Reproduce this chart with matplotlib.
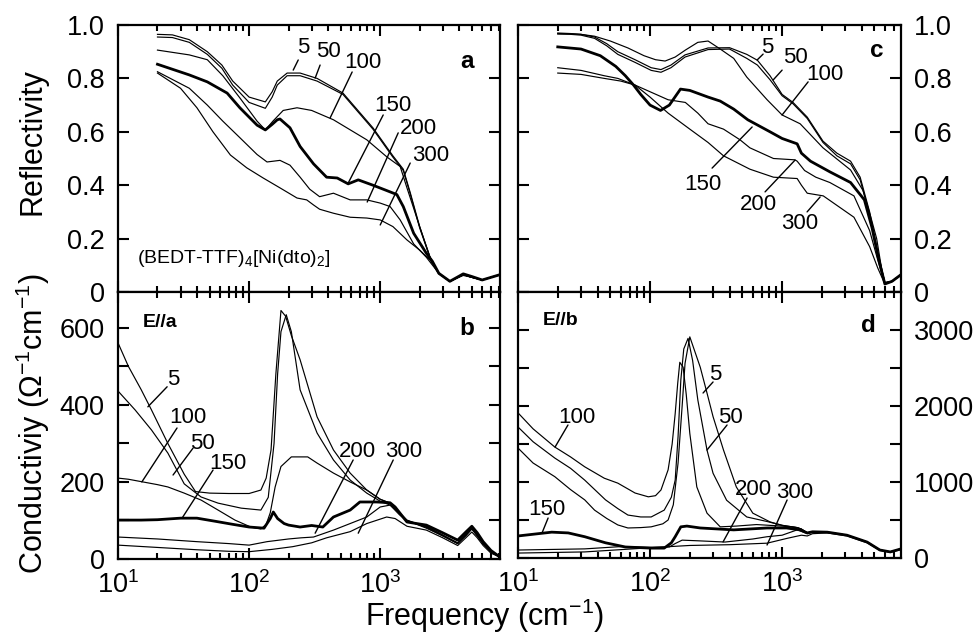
import numpy as np
import matplotlib
matplotlib.use('Agg')
import matplotlib.pyplot as plt
from matplotlib.ticker import LogLocator, FixedLocator, FixedFormatter, NullFormatter, LogFormatterSciNotation

plt.rcParams['font.family'] = ['Liberation Sans', 'DejaVu Sans']
plt.rcParams['mathtext.fontset'] = 'custom'
plt.rcParams['mathtext.rm'] = 'Liberation Sans'
plt.rcParams['mathtext.it'] = 'Liberation Sans:italic'
plt.rcParams['mathtext.bf'] = 'Liberation Sans:bold'

temps = ['5', '50', '100', '150', '200', '300']

# ---------------- panel a : reflectivity E//a ----------------
fa5 = [20, 26, 35, 48, 62, 75, 100, 133, 150, 164, 195, 245, 330, 520, 880, 1250, 1500, 1700, 2000, 2400, 2800, 3400, 4300, 5000, 6000, 8200]
Ra5 = [0.965, 0.963, 0.945, 0.90, 0.85, 0.79, 0.73, 0.712, 0.75, 0.79, 0.82, 0.82, 0.80, 0.745, 0.615, 0.51, 0.46, 0.37, 0.245, 0.13, 0.07, 0.04, 0.065, 0.055, 0.045, 0.065]
fa50 = fa5
Ra50 = [0.955, 0.953, 0.935, 0.89, 0.838, 0.775, 0.71, 0.688, 0.73, 0.775, 0.81, 0.81, 0.79, 0.74, 0.61, 0.505, 0.455, 0.365, 0.24, 0.128, 0.068, 0.04, 0.065, 0.055, 0.045, 0.065]
fa100 = [20, 35, 48, 63, 85, 115, 133, 152, 182, 232, 300, 440, 790, 1130, 1420, 1600, 2000, 2400, 2800, 3400, 4300, 5000, 6000, 8200]
Ra100 = [0.906, 0.888, 0.87, 0.81, 0.727, 0.64, 0.607, 0.64, 0.68, 0.69, 0.68, 0.645, 0.57, 0.505, 0.47, 0.39, 0.245, 0.13, 0.07, 0.04, 0.065, 0.055, 0.045, 0.065]
fa150 = [20, 35, 48, 68, 85, 115, 133, 150, 164, 172, 205, 245, 310, 390, 470, 570, 680, 880, 1120, 1340, 1500, 1800, 2250, 2500, 2800, 3400, 4300, 5000, 6000, 8200]
Ra150 = [0.853, 0.813, 0.787, 0.745, 0.69, 0.625, 0.607, 0.628, 0.645, 0.648, 0.615, 0.545, 0.48, 0.43, 0.427, 0.405, 0.42, 0.40, 0.38, 0.365, 0.32, 0.22, 0.145, 0.115, 0.07, 0.04, 0.068, 0.058, 0.045, 0.065]
fa200 = [20, 35, 48, 63, 85, 115, 137, 172, 205, 245, 290, 345, 440, 590, 790, 1000, 1190, 1420, 1800, 2250, 2800, 3400, 4300, 5000, 6000, 8200]
Ra200 = [0.825, 0.763, 0.70, 0.64, 0.578, 0.515, 0.487, 0.493, 0.475, 0.43, 0.385, 0.357, 0.37, 0.345, 0.345, 0.333, 0.32, 0.27, 0.18, 0.13, 0.07, 0.04, 0.065, 0.055, 0.045, 0.065]
fa300 = [20, 30, 40, 53, 72, 96, 128, 172, 232, 275, 310, 345, 440, 590, 790, 1000, 1250, 1600, 2000, 2400, 2800, 3400, 4300, 5000, 6000, 8200]
Ra300 = [0.82, 0.763, 0.69, 0.60, 0.513, 0.465, 0.427, 0.39, 0.352, 0.345, 0.326, 0.31, 0.295, 0.28, 0.277, 0.27, 0.245, 0.195, 0.157, 0.12, 0.07, 0.04, 0.062, 0.055, 0.045, 0.065]

# ---------------- panel c : reflectivity E//b ----------------
fc5 = [20, 25, 30, 38, 47, 57, 77, 102, 121, 144, 184, 275, 400, 540, 650, 810, 1000, 1210, 1550, 2040, 2600, 3300, 3900, 4600, 5300, 6000, 6800, 7950]
Rc5 = [0.968, 0.967, 0.965, 0.955, 0.93, 0.90, 0.87, 0.84, 0.833, 0.85, 0.888, 0.914, 0.915, 0.89, 0.868, 0.81, 0.74, 0.71, 0.655, 0.565, 0.52, 0.49, 0.43, 0.30, 0.15, 0.035, 0.04, 0.065]
fc50 = fc5
Rc50 = [0.966, 0.965, 0.962, 0.95, 0.922, 0.89, 0.86, 0.83, 0.823, 0.84, 0.88, 0.908, 0.91, 0.875, 0.85, 0.795, 0.735, 0.705, 0.65, 0.56, 0.51, 0.48, 0.42, 0.29, 0.14, 0.035, 0.04, 0.065]
fc100 = [20, 25, 30, 38, 50, 68, 90, 110, 130, 155, 185, 230, 275, 340, 430, 540, 770, 1000, 1370, 2040, 3300, 4100, 4700, 5200, 5700, 6000, 6800, 7950]
Rc100 = [0.97, 0.968, 0.965, 0.958, 0.94, 0.914, 0.885, 0.87, 0.865, 0.88, 0.906, 0.935, 0.94, 0.91, 0.875, 0.805, 0.72, 0.663, 0.63, 0.54, 0.457, 0.38, 0.28, 0.20, 0.08, 0.035, 0.04, 0.065]
fc150 = [20, 30, 42, 55, 65, 75, 85, 100, 120, 140, 170, 200, 275, 340, 430, 550, 810, 1000, 1300, 1400, 1640, 2300, 3300, 4200, 4800, 5400, 6000, 6800, 7950]
Rc150 = [0.918, 0.91, 0.885, 0.845, 0.81, 0.775, 0.74, 0.70, 0.68, 0.70, 0.76, 0.755, 0.73, 0.715, 0.685, 0.645, 0.60, 0.575, 0.555, 0.52, 0.49, 0.45, 0.41, 0.345, 0.24, 0.12, 0.03, 0.04, 0.065]
fc200 = [20, 30, 45, 57, 77, 100, 137, 185, 230, 275, 360, 480, 570, 860, 1250, 1300, 1480, 1800, 2300, 3500, 4600, 5300, 6000, 6800, 7950]
Rc200 = [0.84, 0.83, 0.81, 0.80, 0.775, 0.75, 0.72, 0.71, 0.67, 0.63, 0.61, 0.57, 0.54, 0.50, 0.495, 0.49, 0.455, 0.43, 0.41, 0.36, 0.23, 0.12, 0.03, 0.04, 0.065]
fc300 = [20, 30, 45, 60, 77, 100, 137, 200, 275, 360, 570, 860, 1300, 1400, 1550, 2050, 3500, 4600, 5300, 6000, 6800, 7950]
Rc300 = [0.82, 0.815, 0.80, 0.79, 0.775, 0.73, 0.67, 0.61, 0.56, 0.51, 0.46, 0.43, 0.425, 0.40, 0.37, 0.36, 0.28, 0.17, 0.09, 0.03, 0.04, 0.065]

# ---------------- panel b : conductivity E//a ----------------
fb5 = [10, 12, 15, 18, 24, 32, 39, 50, 70, 100, 123, 135, 147, 160, 175, 190, 210, 245, 330, 440, 590, 790, 1000, 1190, 1400, 1600, 2250, 3000, 3900, 4500, 5000, 5500, 6100, 7000, 8200]
sb5 = [561, 500, 440, 387, 300, 220, 175, 171, 170, 170, 179, 210, 283, 480, 645, 630, 580, 517, 369, 283, 223, 179, 155, 145, 120, 101, 83, 62, 41, 65, 83, 65, 41, 20, 5]
fb50 = [10, 13.5, 18, 24, 32, 43, 58, 87, 123, 140, 155, 165, 175, 192, 210, 245, 330, 440, 590, 790, 1000, 1190, 1400, 1600, 2250, 3000, 3900, 4500, 5000, 5500, 6100, 7000, 8200]
sb50 = [436, 387, 335, 275, 195, 161, 145, 132, 127, 160, 300, 480, 590, 634, 590, 439, 327, 257, 205, 171, 150, 140, 120, 100, 80, 60, 40, 62, 80, 62, 40, 20, 5]
fb100 = [10, 12, 15.5, 20, 24, 32, 43, 58, 78, 103, 123, 135, 145, 158, 175, 210, 280, 330, 440, 590, 790, 1000, 1190, 1400, 1600, 2250, 3000, 3900, 4500, 5000, 5500, 6100, 7000, 8200]
sb100 = [210, 207, 200, 193, 187, 171, 153, 127, 101, 83, 78, 90, 120, 187, 240, 265, 265, 249, 223, 200, 179, 155, 145, 118, 100, 82, 60, 40, 60, 78, 60, 40, 18, 5]
fb150 = [10, 15, 20, 30, 40, 55, 75, 100, 130, 145, 153, 165, 185, 200, 245, 300, 365, 440, 590, 700, 940, 1190, 1300, 1600, 2250, 3000, 3900, 4500, 5000, 5500, 6100, 7000, 8200]
sb150 = [101, 101, 102, 106, 106, 98, 90, 83, 80, 105, 122, 105, 92, 88, 83, 87, 83, 109, 127, 148, 148, 146, 135, 96, 88, 68, 49, 70, 85, 68, 45, 22, 5]
fb200 = [10, 20, 40, 70, 100, 137, 200, 250, 310, 440, 590, 790, 1000, 1190, 1400, 1600, 2250, 3000, 3900, 4500, 5000, 5500, 6100, 7000, 8200]
sb200 = [57, 52, 45, 40, 36, 45, 52, 55, 57, 75, 92, 109, 135, 140, 115, 98, 85, 62, 42, 62, 78, 60, 40, 18, 5]
fb300 = [10, 20, 40, 70, 100, 150, 215, 300, 390, 590, 790, 1120, 1300, 1600, 2250, 3000, 3900, 4500, 5000, 5500, 6100, 7000, 8200]
sb300 = [36, 30, 24, 20, 19, 25, 32, 42, 55, 71, 92, 109, 105, 85, 75, 55, 35, 55, 70, 55, 35, 15, 5]

# ---------------- panel d : conductivity E//b ----------------
fd5 = [10, 13, 19, 25, 32, 38, 47, 57, 68, 85, 102, 125, 137, 150, 163, 175, 184, 200, 240, 270, 300, 360, 450, 600, 810, 1000, 1300, 1400, 1550, 1700, 2200, 3100, 4400, 5500, 6600, 7950]
sd5 = [1447, 1250, 1070, 900, 765, 630, 520, 435, 395, 400, 410, 450, 500, 700, 1250, 2000, 2560, 2910, 2510, 2170, 1860, 1420, 935, 590, 475, 430, 400, 380, 330, 345, 340, 300, 210, 105, 80, 120]
fd50 = [10, 13, 19, 25, 32, 46, 57, 68, 85, 102, 128, 145, 155, 163, 171, 180, 194, 210, 230, 270, 300, 380, 540, 770, 1000, 1300, 1400, 1550, 1700, 2200, 3100, 4400, 5500, 6600, 7950]
sd50 = [1724, 1530, 1315, 1180, 1025, 765, 650, 565, 540, 540, 630, 800, 1025, 1600, 2340, 2750, 2890, 2600, 2080, 1420, 1115, 760, 540, 480, 430, 400, 380, 330, 345, 340, 300, 210, 105, 80, 120]
fd100 = [10, 13, 19, 25, 32, 45, 57, 77, 97, 110, 121, 137, 147, 155, 162, 168, 178, 188, 200, 226, 270, 340, 450, 640, 800, 1000, 1300, 1400, 1550, 1700, 2200, 3100, 4400, 5500, 6600, 7950]
sd100 = [1910, 1700, 1460, 1330, 1200, 1050, 985, 855, 805, 820, 895, 1160, 1500, 1900, 2300, 2575, 2510, 2150, 1640, 935, 590, 410, 420, 440, 430, 420, 400, 380, 330, 345, 340, 300, 210, 105, 80, 120]
fd150 = [10, 18, 24, 32, 46, 65, 102, 128, 145, 155, 171, 190, 240, 430, 770, 1080, 1370, 1550, 1700, 2200, 3100, 4400, 5500, 6600, 7950]
sd150 = [290, 340, 330, 280, 200, 145, 130, 130, 200, 280, 410, 420, 395, 370, 395, 395, 370, 330, 345, 340, 300, 210, 105, 80, 120]
fd200 = [10, 32, 60, 100, 140, 155, 175, 240, 370, 600, 770, 1000, 1300, 1400, 1550, 1700, 2200, 3100, 4400, 5500, 6600, 7950]
sd200 = [105, 120, 150, 140, 145, 190, 235, 225, 210, 250, 280, 300, 370, 350, 320, 340, 335, 300, 210, 105, 80, 120]
fd300 = [10, 32, 60, 100, 200, 400, 770, 1100, 1400, 1550, 1700, 2200, 3100, 4400, 5500, 6600, 7950]
sd300 = [65, 80, 110, 135, 165, 175, 195, 260, 300, 290, 320, 330, 290, 200, 100, 75, 110]

panel_a = [(fa5, Ra5), (fa50, Ra50), (fa100, Ra100), (fa150, Ra150), (fa200, Ra200), (fa300, Ra300)]
panel_c = [(fc5, Rc5), (fc50, Rc50), (fc100, Rc100), (fc150, Rc150), (fc200, Rc200), (fc300, Rc300)]
panel_b = [(fb5, sb5), (fb50, sb50), (fb100, sb100), (fb150, sb150), (fb200, sb200), (fb300, sb300)]
panel_d = [(fd5, sd5), (fd50, sd50), (fd100, sd100), (fd150, sd150), (fd200, sd200), (fd300, sd300)]

# annotation placement: label -> (text position, pointer start, pointer end) in data units
ann_a = {'5': ((258, 0.914), (237, 0.869), (217, 0.831)),
         '50': ((401, 0.899), (348, 0.850), (319, 0.801)),
         '100': ((741, 0.861), (611, 0.824), (415, 0.652)),
         '150': ((1256, 0.700), (1054, 0.663), (570, 0.408)),
         '200': ((1950, 0.614), (1372, 0.596), (796, 0.337)),
         '300': ((2408, 0.513), (1694, 0.483), (1000, 0.251))}
ann_c = {'5': ((769, 0.914), (718, 0.891), (647, 0.869)),
         '50': ((1253, 0.880), (1000, 0.831), (855, 0.794)),
         '100': ((2118, 0.813), (1574, 0.787), (1000, 0.663)),
         '150': ((252, 0.401), (295, 0.464), (593, 0.618)),
         '200': ((658, 0.326), (743, 0.375), (1253, 0.494)),
         '300': ((1368, 0.258), (1546, 0.300), (1941, 0.356))}
ann_b = {'5': ((26.3, 465), (23.7, 447), (16.9, 395)),
         '100': ((34.2, 366), (28.2, 340), (15.2, 200)),
         '50': ((43.7, 301), (37.4, 288), (26.3, 218)),
         '150': ((69.2, 249), (53.1, 231), (30.8, 106)),
         '200': ((667, 278), (622, 257), (319, 67)),
         '300': ((1500, 278), (1257, 257), (680, 67))}
ann_d = {'5': ((311, 2408), (300, 2316), (252, 2171)),
         '50': ((403, 1855), (383, 1750), (270, 1421)),
         '100': ((28.0, 1855), (23.9, 1750), (19.1, 1461)),
         '150': ((16.6, 632), (16.9, 526), (15.2, 329)),
         '200': ((603, 895), (543, 789), (357, 211)),
         '300': ((1253, 868), (1091, 763), (769, 171))}

W, H = 974, 635
fig = plt.figure(figsize=(W / 100, H / 100), dpi=100)


def add_ax(x0, y0, x1, y1):
    return fig.add_axes([x0 / W, 1 - y1 / H, (x1 - x0) / W, (y1 - y0) / H])


ax_a = add_ax(118, 25, 500, 292)
ax_b = add_ax(118, 292, 500, 559)
ax_c = add_ax(518, 25, 901, 292)
ax_d = add_ax(518, 292, 901, 558)

setups = [
    (ax_a, panel_a, ann_a, (10, 8200), (0, 1.0), [0, 0.2, 0.4, 0.6, 0.8, 1.0], ['0', '0.2', '0.4', '0.6', '0.8', '1.0'], False, False),
    (ax_b, panel_b, ann_b, (10, 8200), (0, 693), [0, 100, 200, 300, 400, 500, 600], ['0', '', '200', '', '400', '', '600'], True, False),
    (ax_c, panel_c, ann_c, (10, 7950), (0, 1.0), [0, 0.2, 0.4, 0.6, 0.8, 1.0], ['0', '0.2', '0.4', '0.6', '0.8', '1.0'], False, True),
    (ax_d, panel_d, ann_d, (10, 7950), (0, 3500), [0, 500, 1000, 1500, 2000, 2500, 3000, 3500], ['0', '', '1000', '', '2000', '', '3000', ''], True, True),
]

for ax, curves, ann, xl, yl, yt, ytl, xlabels, right in setups:
    for t, (f, v) in zip(temps, curves):
        ax.plot(f, v, color='black', lw=2.0 if t == '150' else 0.85, solid_joinstyle='round')
    ax.set_xscale('log')
    ax.set_xlim(*xl)
    ax.set_ylim(*yl)
    ax.xaxis.set_major_locator(LogLocator(base=10, numticks=10))
    ax.xaxis.set_minor_locator(LogLocator(base=10, subs=np.arange(2, 10), numticks=20))
    ax.xaxis.set_minor_formatter(NullFormatter())
    if xlabels:
        ax.xaxis.set_major_formatter(LogFormatterSciNotation())
    else:
        ax.xaxis.set_major_formatter(NullFormatter())
    ax.yaxis.set_major_locator(FixedLocator(yt))
    ax.yaxis.set_major_formatter(FixedFormatter(ytl))
    ax.tick_params(which='both', direction='in', top=True, bottom=True, left=True, right=True,
                   width=1.5, labelsize=19.5, colors='black')
    ax.tick_params(which='major', length=8)
    ax.tick_params(which='minor', length=4.5)
    ax.tick_params(axis='x', pad=9)
    if right:
        ax.tick_params(axis='y', labelleft=False, labelright=True, pad=9)
    else:
        ax.tick_params(axis='y', labelleft=True, labelright=False, pad=9.5)
    for s in ax.spines.values():
        s.set_linewidth(1.6)
    for lab, (tp, p0, p1) in ann.items():
        ax.annotate('', xy=p1, xytext=p0,
                    arrowprops=dict(arrowstyle='-', lw=1.0, color='black', shrinkA=0, shrinkB=0))
        ax.text(tp[0], tp[1], lab, fontsize=16, ha='center', va='center')

# panel letters and tags
ax_a.text(0.9136, 1 - (68 - 25) / 267, 'a', transform=ax_a.transAxes, fontsize=17.5, fontweight='bold', ha='center', va='baseline')
ax_b.text(0.9136, 1 - (335 - 292) / 267, 'b', transform=ax_b.transAxes, fontsize=17.5, fontweight='bold', ha='center', va='baseline')
ax_c.text((877 - 518) / 383, 1 - (57 - 25) / 267, 'c', transform=ax_c.transAxes, fontsize=17.5, fontweight='bold', ha='center', va='baseline')
ax_d.text((868 - 518) / 383, 1 - (332 - 292) / 266, 'd', transform=ax_d.transAxes, fontsize=17.5, fontweight='bold', ha='center', va='baseline')
ax_b.text((143 - 118) / 382, 1 - (327 - 292) / 267, 'E//a', transform=ax_b.transAxes, fontsize=14, fontweight='bold', ha='left', va='baseline')
ax_d.text((543 - 518) / 383, 1 - (325 - 292) / 266, 'E//b', transform=ax_d.transAxes, fontsize=14, fontweight='bold', ha='left', va='baseline')
ax_a.text((137 - 118) / 382, 1 - (263 - 25) / 267, '(BEDT-TTF)$_4$[Ni(dto)$_2$]', transform=ax_a.transAxes,
          fontsize=14, ha='left', va='baseline')

fig.text(33 / W, 1 - 142 / H, 'Reflectivity', rotation=90, fontsize=22, ha='center', va='center')
fig.text(33 / W, 1 - 423 / H, 'Conductiviy (\u03a9$^{-1}$cm$^{-1}$)', rotation=90, fontsize=22, ha='center', va='center')
fig.text(485 / W, 1 - 626 / H, 'Frequency (cm$^{-1}$)', fontsize=22, ha='center', va='baseline')

fig.savefig('out.png', dpi=100)
